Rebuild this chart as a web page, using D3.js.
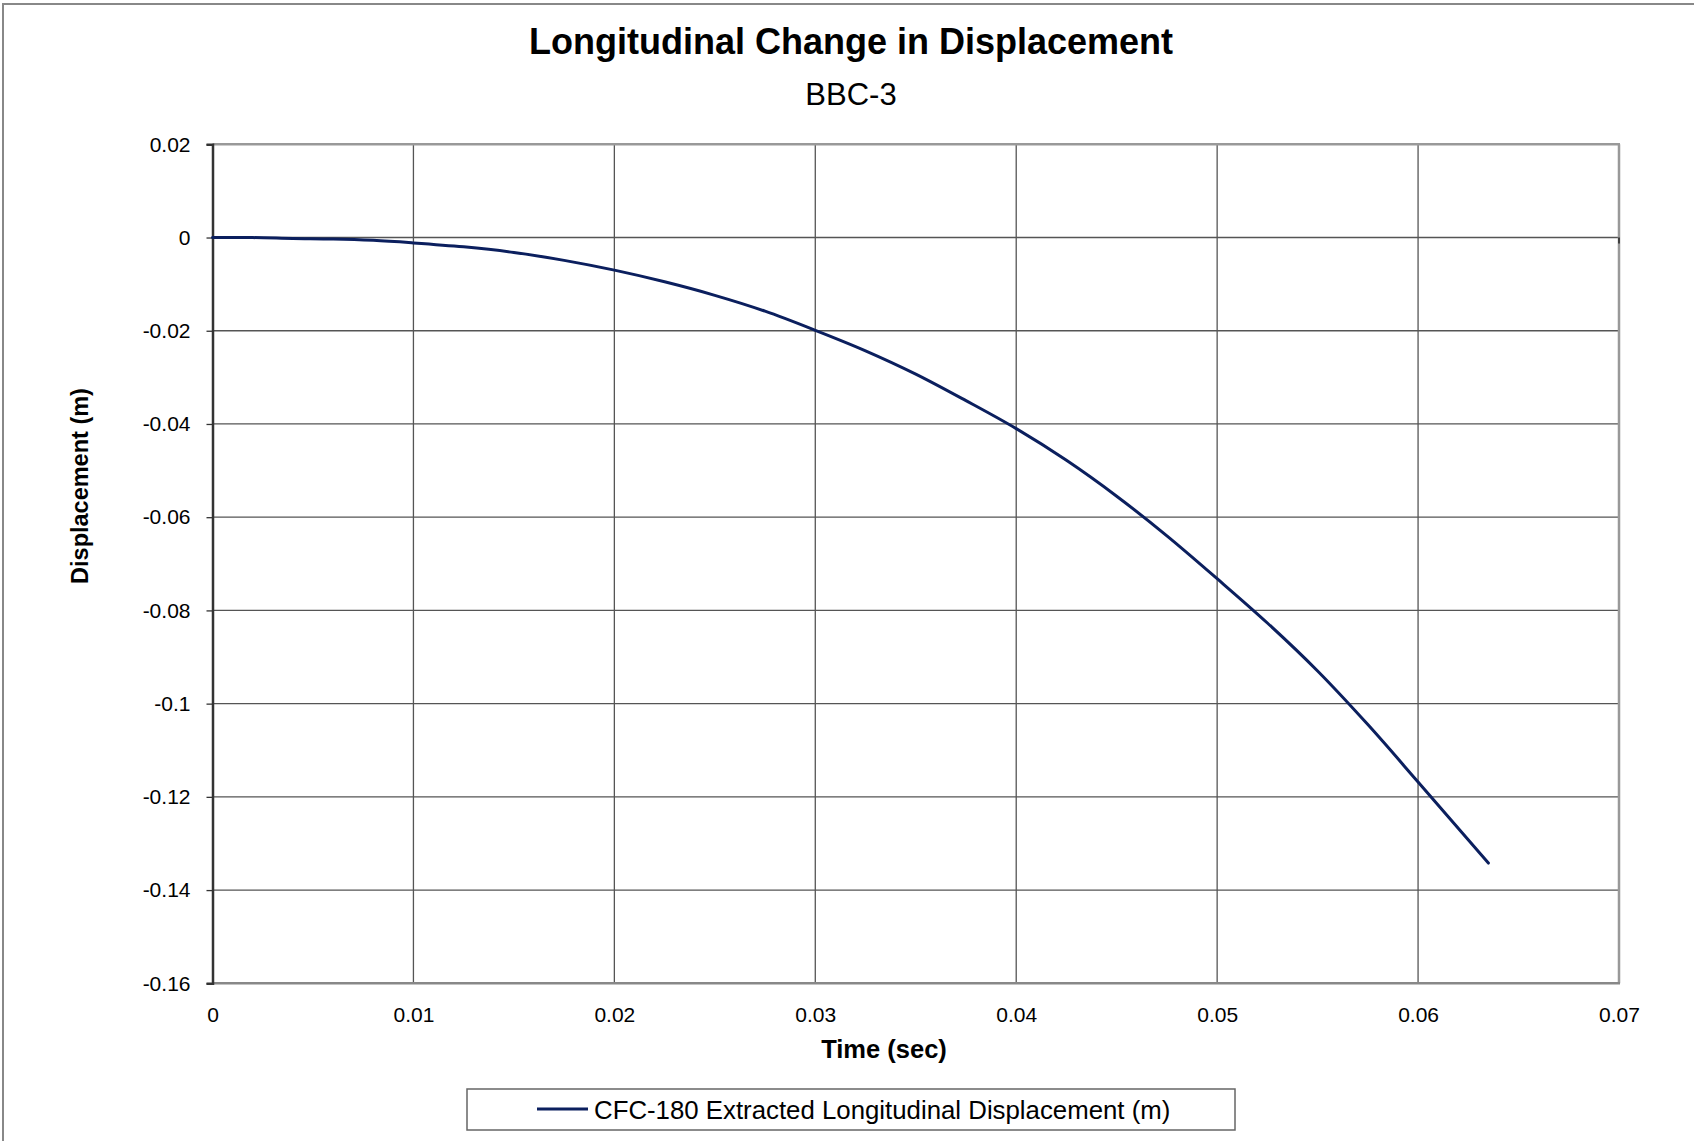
<!DOCTYPE html>
<html><head><meta charset="utf-8">
<script src="https://cdn.jsdelivr.net/npm/d3@7"></script>
<style>body{margin:0;background:#fff}svg{display:block}text{font-family:"Liberation Sans",Arial,sans-serif;fill:#000}</style>
</head><body>
<script>
const times = [0,0.002,0.004,0.006,0.008,0.01,0.0125,0.015,0.0175,0.02,0.0225,0.025,0.0275,0.03,0.0325,0.035,0.0375,0.04,0.0425,0.045,0.0475,0.05,0.0525,0.055,0.0575,0.06,0.0635];
const displacement = [0,-0.00002,-0.0002,-0.0003,-0.0006,-0.00115,-0.002,-0.0032,-0.0049,-0.007,-0.0095,-0.0124,-0.0158,-0.0199,-0.0243,-0.0293,-0.035,-0.041,-0.0478,-0.0555,-0.064,-0.0732,-0.0827,-0.093,-0.1045,-0.1168,-0.1342];
const xTicks = [0,0.01,0.02,0.03,0.04,0.05,0.06,0.07];
const yTicks = [0.02,0,-0.02,-0.04,-0.06,-0.08,-0.1,-0.12,-0.14,-0.16];
const title = "Longitudinal Change in Displacement";
const subtitle = "BBC-3";
const seriesName = "CFC-180 Extracted Longitudinal Displacement (m)";

const W=1694,H=1141;
const L=212.5,R=1619,T=144.3,B=983.3;
const svg=d3.select("body").append("svg").attr("width",W).attr("height",H);
svg.append("rect").attr("x",3).attr("y",4).attr("width",1720).attr("height",1200).attr("fill","none").attr("stroke","#888").attr("stroke-width",2);

const x=d3.scaleLinear().domain([0,0.07]).range([L,R]);
const y=d3.scaleLinear().domain([-0.16,0.02]).range([B,T]);

// gridlines
const g=svg.append("g");
g.selectAll(".vg").data(xTicks.slice(1,-1)).join("line")
 .attr("x1",d=>x(d)).attr("x2",d=>x(d)).attr("y1",T).attr("y2",B)
 .attr("stroke","#555").attr("stroke-width",1.3);
g.selectAll(".hg").data(yTicks.slice(1,-1)).join("line")
 .attr("x1",L).attr("x2",R).attr("y1",d=>y(d)).attr("y2",d=>y(d))
 .attr("stroke","#555").attr("stroke-width",1.3);
// plot border top/right/bottom
svg.append("line").attr("x1",L).attr("x2",R+1).attr("y1",T).attr("y2",T).attr("stroke","#999").attr("stroke-width",2.5);
svg.append("line").attr("x1",R).attr("x2",R).attr("y1",T).attr("y2",B).attr("stroke","#999").attr("stroke-width",2.5);
svg.append("line").attr("x1",L).attr("x2",R+1).attr("y1",B).attr("y2",B).attr("stroke","#888").attr("stroke-width",2.5);
svg.append("line").attr("x1",R).attr("x2",R).attr("y1",y(0)).attr("y2",y(0)+6).attr("stroke","#222").attr("stroke-width",1.5);

const fmt=d=>d===0?"0":String(+d.toFixed(2));
// y axis
const yAxis=svg.append("g").attr("transform",`translate(${L},0)`)
 .call(d3.axisLeft(y).tickValues(yTicks).tickSize(6).tickPadding(16).tickFormat(fmt));
yAxis.select(".domain").attr("stroke","#333").attr("stroke-width",2.5);
yAxis.selectAll(".tick line").attr("stroke","#333").attr("stroke-width",1.3);
yAxis.selectAll("text").attr("font-size",21).attr("font-family","Liberation Sans, Arial, sans-serif").attr("fill","#111");

// x axis labels
const xAxis=svg.append("g").attr("transform",`translate(0,${B})`)
 .call(d3.axisBottom(x).tickValues(xTicks).tickSize(0).tickPadding(24).tickFormat(fmt));
xAxis.select(".domain").remove();
xAxis.selectAll("text").attr("font-size",21).attr("font-family","Liberation Sans, Arial, sans-serif").attr("fill","#111");

// line
const pts=times.map((t,i)=>[t,displacement[i]]);
svg.append("path").datum(pts).attr("fill","none").attr("stroke","#0b1f5e").attr("stroke-width",3)
 .attr("stroke-linecap","round")
 .attr("d",d3.line().x(d=>x(d[0])).y(d=>y(d[1])).curve(d3.curveMonotoneX));

// titles
svg.append("text").attr("x",851).attr("y",54).attr("text-anchor","middle").attr("font-size",36).attr("font-weight","bold").text(title);
svg.append("text").attr("x",851).attr("y",105).attr("text-anchor","middle").attr("font-size",31).text(subtitle);
svg.append("text").attr("x",884).attr("y",1058).attr("text-anchor","middle").attr("font-size",25.5).attr("font-weight","bold").text("Time (sec)");
svg.append("text").attr("transform","translate(88,486) rotate(-90)").attr("text-anchor","middle").attr("font-size",23.5).attr("font-weight","bold").text("Displacement (m)");

// legend
svg.append("rect").attr("x",467).attr("y",1089).attr("width",768).attr("height",41).attr("fill","#fff").attr("stroke","#666").attr("stroke-width",1.5);
svg.append("line").attr("x1",537).attr("x2",588).attr("y1",1109).attr("y2",1109).attr("stroke","#0b1f5e").attr("stroke-width",3);
svg.append("text").attr("x",594).attr("y",1119).attr("font-size",25.8).text(seriesName);
</script>
</body></html>
